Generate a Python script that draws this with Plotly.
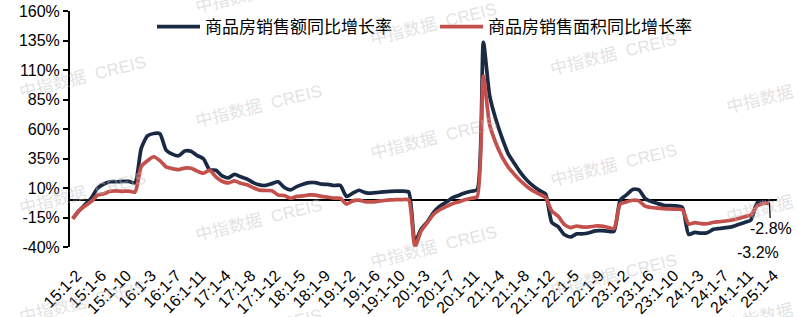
import plotly.graph_objects as go

# ---------------- data ----------------
years = ["15", "16", "17", "18", "19", "20", "21", "22", "23", "24"]
months = ["1-2", "1-3", "1-4", "1-5", "1-6", "1-7", "1-8", "1-9", "1-10", "1-11", "1-12"]
months_2025 = ["1-2", "1-3", "1-4"]
categories = [f"{y}:{m}" for y in years for m in months] + [f"25:{m}" for m in months_2025]

# 商品房销售额同比增长率 (%)
sales_amount = [
    -15.8, -9.3, -3.9, 1.7, 10.0, 13.4, 15.3, 15.3, 15.6, 15.6, 14.4,      # 2015
    43.6, 54.1, 56.2, 55.9, 42.1, 38.7, 37.3, 41.3, 41.1, 37.5, 34.8,      # 2016
    25.4, 25.1, 20.2, 18.6, 21.5, 19.5, 17.6, 14.6, 12.6, 12.2, 13.7,      # 2017
    15.3, 10.4, 8.4, 11.2, 13.2, 14.5, 14.5, 13.3, 13.0, 12.1, 12.2,       # 2018
    2.8, 5.6, 8.1, 6.1, 5.6, 6.2, 6.7, 7.1, 7.3, 7.3, 6.5,                 # 2019
    -35.9, -24.7, -18.6, -10.6, -5.4, -2.1, 1.6, 3.7, 5.8, 7.2, 8.7,       # 2020
    133.4, 88.5, 68.2, 52.4, 38.9, 30.7, 22.8, 16.6, 11.8, 8.0, 4.8,       # 2021
    -19.3, -22.7, -29.5, -31.5, -28.9, -28.8, -27.9, -26.3, -26.1, -26.6, -26.7,  # 2022
    -0.1, 4.1, 8.8, 8.4, 1.1, -1.5, -3.2, -4.6, -4.9, -5.2, -6.5,          # 2023
    -29.3, -27.6, -28.3, -27.9, -25.0, -24.3, -23.6, -22.7, -20.9, -19.2, -17.1,  # 2024
    -2.6, -2.1, -3.2,                                                      # 2025
]

# 商品房销售面积同比增长率 (%)
sales_area = [
    -16.3, -9.2, -5.1, -1.4, 3.9, 5.2, 7.2, 7.5, 7.2, 7.4, 6.5,            # 2015
    28.2, 33.1, 36.5, 33.2, 27.9, 26.4, 25.5, 26.9, 26.8, 24.3, 22.5,      # 2016
    25.1, 19.5, 15.7, 14.3, 16.1, 14.0, 12.7, 10.3, 8.2, 7.9, 7.7,         # 2017
    4.1, 3.6, 1.3, 2.9, 3.3, 4.2, 4.0, 2.9, 2.2, 1.4, 1.3,                 # 2018
    -3.6, -0.9, -0.3, -1.6, -1.8, -1.3, -0.6, -0.1, 0.1, 0.2, -0.1,        # 2019
    -39.9, -26.3, -19.3, -12.3, -8.4, -5.8, -3.3, -1.8, 0.0, 1.3, 2.6,     # 2020
    104.9, 63.8, 48.1, 36.3, 27.7, 21.5, 15.9, 11.3, 7.5, 4.8, 1.9,        # 2021
    -9.6, -13.8, -20.9, -23.6, -22.2, -23.1, -23.0, -22.2, -22.3, -23.3, -24.3,  # 2022
    -3.6, -1.8, -0.4, -0.9, -5.3, -6.5, -7.1, -7.5, -7.8, -8.0, -8.5,      # 2023
    -20.5, -19.4, -20.2, -20.3, -19.0, -18.6, -18.0, -17.1, -15.8, -14.3, -12.9,  # 2024
    -5.1, -3.0, -2.8,                                                      # 2025
]

series_names = ["商品房销售额同比增长率", "商品房销售面积同比增长率"]
y_ticks = [-40, -15, 10, 35, 60, 85, 110, 135, 160]
y_tick_labels = [f"{v}%" for v in y_ticks]
x_tick_labels = categories[::4]

# ---------------- figure ----------------
FONT = "Arial, Liberation Sans, Noto Sans CJK SC, sans-serif"
DARK = "#1a2a44"
RED = "#c4504c"

fig = go.Figure()
fig.add_trace(go.Scatter(
    x=categories, y=sales_amount, name=series_names[0], mode="lines",
    line=dict(color=DARK, width=3.7, shape="spline", smoothing=0.6),
))
fig.add_trace(go.Scatter(
    x=categories, y=sales_area, name=series_names[1], mode="lines",
    line=dict(color=RED, width=3.7, shape="spline", smoothing=0.6),
))

# watermarks
L, T, W, H = 70, 11, 707, 236
wm_centers = [
    (82, 77), (82, 193), (82, 302),
    (258, -8), (258, 106), (258, 220), (258, 330),
    (433, 25), (433, 138), (433, 247),
    (613, 55), (613, 165), (613, 275),
    (789, 92), (789, 202), (789, 310),
]
annotations = []
for cx, cy in wm_centers:
    annotations.append(dict(
        text="中指数据  CREIS", xref="paper", yref="paper",
        x=(cx - L) / W, y=(T + H - cy) / H, xanchor="center", yanchor="middle",
        showarrow=False, textangle=-14,
        font=dict(family=FONT, size=17, color="rgba(190,190,190,0.45)"),
    ))

# value labels
annotations.append(dict(
    x=categories[-1], y=sales_area[-1], xref="x", yref="y", text=f"{sales_area[-1]}%",
    showarrow=True, arrowhead=0, arrowwidth=1.2, arrowcolor="black",
    ax=1, ay=25, font=dict(family=FONT, size=16, color="black"),
))
annotations.append(dict(
    x=categories[-1], y=sales_amount[-1], xref="x", yref="y", text=f"{sales_amount[-1]}%",
    showarrow=False, xshift=-12, yshift=-49,
    font=dict(family=FONT, size=16, color="black"),
))

fig.update_layout(
    width=799, height=317,
    margin=dict(l=L, r=799 - L - W, t=T, b=317 - T - H, pad=0, autoexpand=False),
    paper_bgcolor="white", plot_bgcolor="white",
    font=dict(family=FONT, color="black"),
    showlegend=True,
    legend=dict(
        orientation="h", x=(152 - L) / W, y=(T + H - 27) / H,
        xanchor="left", yanchor="middle",
        font=dict(family=FONT, size=17, color="black"),
        bgcolor="rgba(0,0,0,0)", itemwidth=43,
        entrywidth=225, entrywidthmode="pixels",
    ),
    annotations=annotations,
)
fig.update_xaxes(
    type="category", range=[-0.45, 113.2], automargin=False,
    tickmode="array", tickvals=x_tick_labels, ticktext=x_tick_labels,
    tickangle=-45, tickfont=dict(family=FONT, size=16, color="black"),
    ticklabelstandoff=15, ticklabelshift=4,
    showgrid=False, showline=False, zeroline=False, ticks="",
)
fig.update_yaxes(
    range=[-40, 160], tickmode="array", tickvals=y_ticks, ticktext=y_tick_labels,
    automargin=False,
    tickfont=dict(family=FONT, size=16, color="black"),
    showgrid=False, showline=True, linecolor="black", linewidth=2,
    ticks="outside", ticklen=5, tickwidth=1.5, tickcolor="black",
    zeroline=True, zerolinecolor="black", zerolinewidth=1.5,
)

fig.write_html("out.html")
